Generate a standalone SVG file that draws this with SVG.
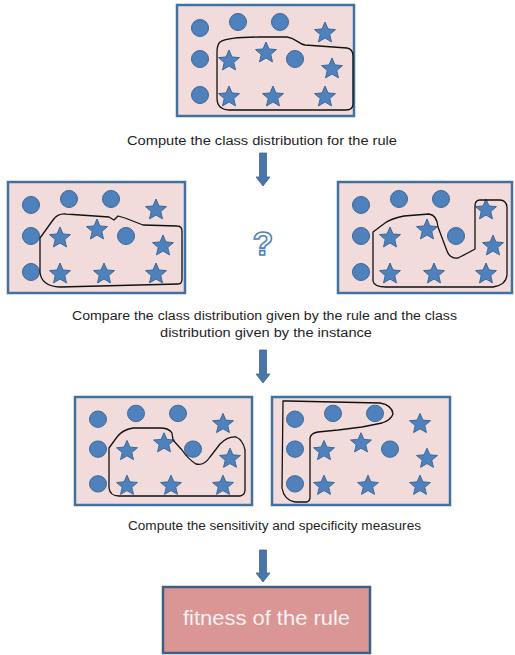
<svg xmlns="http://www.w3.org/2000/svg" xmlns:xlink="http://www.w3.org/1999/xlink" width="515" height="655" viewBox="0 0 515 655">
<style>
.panel{fill:#f2dcdb;stroke:#41719c;stroke-width:2.5}
.dot{fill:#4f81bd;stroke:#3b6796;stroke-width:1}
.blob{fill:none;stroke:#111;stroke-width:1.3;stroke-linejoin:round}
.lbl{font-family:"Liberation Sans",Arial,sans-serif;font-size:12.5px;fill:#1e1e1e;text-anchor:middle}
.arrow{fill:#4a76a8;stroke:#3b6796;stroke-width:0.8}
</style>
<defs>
<path id="star" d="M0,-11 L2.94,-4.05 L10.46,-3.4 L4.76,1.55 L6.47,8.9 L0,5 L-6.47,8.9 L-4.76,1.55 L-10.46,-3.4 L-2.94,-4.05 Z"/>
<g id="content">
<circle class="dot" cx="23" cy="23" r="8.5"/>
<circle class="dot" cx="61" cy="17" r="8.5"/>
<circle class="dot" cx="103" cy="17" r="8.5"/>
<circle class="dot" cx="23" cy="54" r="8.5"/>
<circle class="dot" cx="118" cy="54" r="8.5"/>
<circle class="dot" cx="23" cy="90" r="8.5"/>
<use xlink:href="#star" class="dot" x="148" y="28"/>
<use xlink:href="#star" class="dot" x="52" y="56"/>
<use xlink:href="#star" class="dot" x="89" y="48"/>
<use xlink:href="#star" class="dot" x="155" y="64"/>
<use xlink:href="#star" class="dot" x="52" y="92"/>
<use xlink:href="#star" class="dot" x="96" y="92"/>
<use xlink:href="#star" class="dot" x="148" y="92"/>
</g>
</defs>

<g id="panel-top">
<rect class="panel" x="177" y="5" width="177" height="111"/>
<use xlink:href="#content" transform="translate(177,5)"/>
<path class="blob" d="M220,42 C226,38 240,37 260,37 L287,37 C296,38 298,44 305,45 L347,48 Q353,49 353,56 L353,104 Q353,110 346,110 L230,110 Q217,110 217,98 L217,52 Q217,45 220,42 Z"/>
</g>
<text class="lbl" x="262" y="145" textLength="270" lengthAdjust="spacingAndGlyphs">Compute the class distribution for the rule</text>

<g id="panel-mid-left">
<rect class="panel" x="8" y="182" width="177" height="111"/>
<use xlink:href="#content" transform="translate(8,182)"/>
<path class="blob" d="M40,238 L40,272 Q41,286 60,287 L178,284 Q182,284 182,279 L182,231 Q182,226 177,226 L143,225 L125,218 L118,216 L114,220 L109,217 L66,214 Q58,213 53,220 Z"/>
</g>
<text id="question" x="263" y="255" font-family="Liberation Sans,Arial,sans-serif" font-size="34" font-weight="bold" fill="#ffffff" stroke="#4f81bd" stroke-width="1.6" text-anchor="middle">?</text>
<g id="panel-mid-right">
<rect class="panel" x="338" y="182" width="174" height="111"/>
<use xlink:href="#content" transform="translate(338,182)"/>
<path class="blob" d="M373,232 L373,281 Q374,287 386,287 L493,287 Q506,285 507,275 L507,207 Q506,200 500,200 L480,200 Q475,200 475,206 L475,249 Q468,253 458,258 Q450,259 447,251 L438,227 Q437,215 429,214 L404,216 Q390,219 385,223 Z"/>
</g>
<text class="lbl" x="264.5" y="320" textLength="385" lengthAdjust="spacingAndGlyphs">Compare the class distribution given by the rule and the class</text>
<text class="lbl" x="266" y="337" textLength="212" lengthAdjust="spacingAndGlyphs">distribution given by the instance</text>

<g id="panel-bot-left">
<rect class="panel" x="75" y="397" width="177" height="108"/>
<use xlink:href="#content" transform="translate(75,397) scale(1,0.965)"/>
<path class="blob" d="M109,448 L109,488 Q110,496 119,496 L240,496 Q245,495 245,490 L245,450 Q243,440 236,437 Q228,436 220,444 L210,457 Q204,466 196,464 Q188,459 182,450 L173,440 L172,433 Q169,428 160,428 L133,428 Q122,430 117,437 Z"/>
</g>
<g id="panel-bot-right">
<rect class="panel" x="272" y="397" width="178" height="108"/>
<use xlink:href="#content" transform="translate(272,397) scale(1,0.965)"/>
<path class="blob" d="M283,401 L282,488 Q284,500 295,502 L307,502 Q310,501 310,497 L310,438 Q311,433 318,432 L338,430 L362,427 L382,423 Q391,420 393,414 Q392,405 380,403 L288,401 Z"/>
</g>
<text class="lbl" x="274.5" y="530" textLength="293" lengthAdjust="spacingAndGlyphs">Compute the sensitivity and specificity measures</text>

<g id="connectors">
<path class="arrow" d="M259.5,153 L266.5,153 L266.5,177 L270,177 L263,186 L256,177 L259.5,177 Z"/>
<path class="arrow" d="M259.5,350 L266.5,350 L266.5,374 L270,374 L263,383 L256,374 L259.5,374 Z"/>
<path class="arrow" d="M259.5,550 L266.5,550 L266.5,573 L270,573 L263,582 L256,573 L259.5,573 Z"/>
</g>

<g id="fitness">
<rect x="163" y="587" width="207" height="66" fill="#d99694" stroke="#3f5f82" stroke-width="2.5"/>
<text x="266.5" y="625" font-family="Liberation Sans,Arial,sans-serif" font-size="20" fill="#fbf3f3" text-anchor="middle" textLength="167" lengthAdjust="spacingAndGlyphs">fitness of the rule</text>
</g>
</svg>
